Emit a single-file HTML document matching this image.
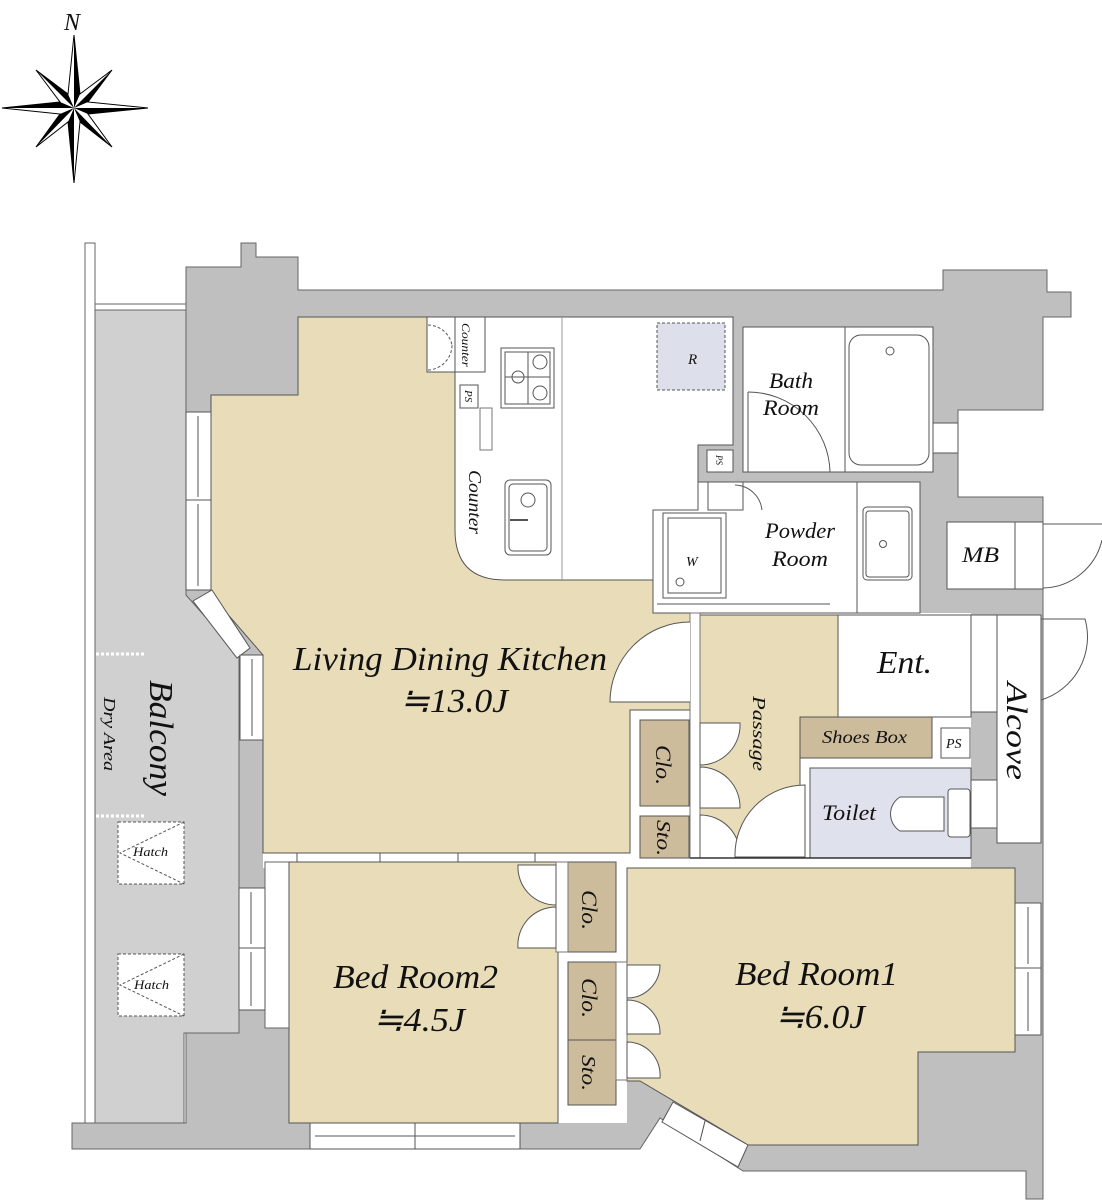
<!DOCTYPE html>
<html><head><meta charset="utf-8"><style>
html,body{margin:0;padding:0;background:#fff;}
svg{display:block;}
text{font-family:"Liberation Serif",serif;font-style:italic;fill:#111;}
</style></head><body>
<svg width="1102" height="1200" viewBox="0 0 1102 1200" xmlns="http://www.w3.org/2000/svg">
<!-- compass -->
<g>
<polygon points="74,35 80,94 112,70 88,102 148,108 88,114 112,147 80,122 74,183 68,122 36,147 60,114 2,108 60,102 36,70 68,94" fill="#fff" stroke="#000" stroke-width="1"/>
<polygon points="74,35 80,94 74,108" fill="#000"/>
<polygon points="148,108 88,114 74,108" fill="#000"/>
<polygon points="74,183 68,122 74,108" fill="#000"/>
<polygon points="2,108 60,102 74,108" fill="#000"/>
<polygon points="112,70 88,102 74,108" fill="#000"/>
<polygon points="112,147 80,122 74,108" fill="#000"/>
<polygon points="36,147 60,114 74,108" fill="#000"/>
<polygon points="36,70 68,94 74,108" fill="#000"/>
<text x="64" y="30" font-size="24">N</text>
</g>

<!-- outer walls -->
<polygon points="186,267 241,267 241,243 256,243 256,257 298,257 298,290 943,290 943,270 1047,270 1047,292 1071,292 1071,317 1043,317 1043,410 958,410 958,497 1043,497 1043,1199 1026,1199 1026,1171 743,1171 660,1118 640,1149 72,1149 72,1123 186,1123" fill="#bfbfbf" stroke="#666" stroke-width="1"/>
<!-- balcony -->
<rect x="85" y="243" width="10" height="880" fill="#fff" stroke="#666" stroke-width="1"/>
<polygon points="95,310 186,310 186,595 239,655 239,1033 184,1033 184,1123 95,1123" fill="#d0d0d0" stroke="#666" stroke-width="1"/>
<rect x="95" y="304" width="91" height="6" fill="#fff" stroke="#666" stroke-width="1"/>
<line x1="96" y1="654" x2="146" y2="654" stroke="#fff" stroke-width="3" stroke-dasharray="3,2"/>
<line x1="96" y1="816" x2="146" y2="816" stroke="#fff" stroke-width="3" stroke-dasharray="3,2"/>
<g fill="#fff" stroke="#555" stroke-width="1" stroke-dasharray="3,2">
<rect x="118" y="822" width="66" height="62"/>
<rect x="118" y="954" width="66" height="62"/>
<polyline points="184,822 120,853 184,884" fill="none"/>
<polyline points="184,954 120,985 184,1016" fill="none"/>
</g>
<text x="133" y="856" font-size="13" textLength="35" lengthAdjust="spacingAndGlyphs">Hatch</text>
<text x="134" y="989" font-size="13" textLength="35" lengthAdjust="spacingAndGlyphs">Hatch</text>

<!-- interior white base -->
<rect x="263" y="613" width="708" height="255" fill="#fff"/>
<rect x="556" y="862" width="71" height="261" fill="#fff"/>
<rect x="265" y="862" width="30" height="166" fill="#fff" stroke="#666" stroke-width="1"/>

<!-- LDK -->
<polygon points="211,395 298,395 298,317 653,317 653,613 690,613 690,710 630,710 630,853 263,853 263,655 211,595" fill="#e8dcb9" stroke="#555" stroke-width="1"/>
<!-- kitchen -->
<path d="M427,317 L733,317 L733,445 L698,445 L698,510 L653,510 L653,580 L505,580 Q455,580 455,530 L455,372 L427,372 Z" fill="#fff" stroke="#555" stroke-width="1"/>
<line x1="562" y1="317" x2="562" y2="580" stroke="#999" stroke-width="1"/>
<rect x="455" y="317" width="30" height="55" fill="#fff" stroke="#555" stroke-width="1"/>
<path d="M428,325 A25,25 0 0,1 452,345 M428,370 A25,25 0 0,0 452,345" fill="none" stroke="#555" stroke-width="1" stroke-dasharray="3,2"/>
<rect x="460" y="385" width="18" height="23" fill="#fff" stroke="#555"/>
<rect x="480" y="408" width="12" height="42" fill="#fff" stroke="#777"/>
<rect x="501" y="348" width="53" height="60" fill="#fff" stroke="#555"/>
<rect x="505" y="352" width="45" height="52" fill="none" stroke="#555"/>
<circle cx="540" cy="362" r="7" fill="none" stroke="#555"/><circle cx="540" cy="393" r="7" fill="none" stroke="#555"/><circle cx="518" cy="377" r="6" fill="none" stroke="#555"/>
<line x1="505" y1="377" x2="550" y2="377" stroke="#555"/><line x1="528" y1="352" x2="528" y2="404" stroke="#555"/>
<rect x="505" y="480" width="46" height="75" rx="5" fill="#fff" stroke="#555"/>
<rect x="509" y="484" width="38" height="67" rx="4" fill="none" stroke="#555"/>
<circle cx="528" cy="500" r="7" fill="none" stroke="#555"/>
<line x1="510" y1="520" x2="528" y2="520" stroke="#555" stroke-width="2"/>
<rect x="657" y="323" width="68" height="67" fill="#dde0ea" stroke="#555" stroke-dasharray="3,2"/>
<text x="688" y="364" font-size="15">R</text>
<text transform="translate(462,323) rotate(90)" font-size="12" textLength="44" lengthAdjust="spacingAndGlyphs">Counter</text>
<text transform="translate(465,390) rotate(90)" font-size="11">PS</text>
<text transform="translate(469,470) rotate(90)" font-size="18" textLength="64" lengthAdjust="spacingAndGlyphs">Counter</text>

<!-- bath -->
<rect x="743" y="327" width="190" height="145" fill="#fff" stroke="#555"/>
<line x1="845" y1="327" x2="845" y2="472" stroke="#555"/>
<rect x="849" y="335" width="80" height="130" rx="12" fill="#fff" stroke="#555"/>
<circle cx="890" cy="351" r="4" fill="none" stroke="#555"/>
<rect x="707" y="450" width="26" height="22" fill="#fff" stroke="#555"/>
<text transform="translate(716,455) rotate(90)" font-size="9">PS</text>
<path d="M748,392 A82,82 0 0,1 830,472" fill="none" stroke="#555"/>
<line x1="748" y1="392" x2="748" y2="472" stroke="#555"/>
<text x="769" y="388" font-size="22" textLength="44" lengthAdjust="spacingAndGlyphs">Bath</text>
<text x="763" y="415" font-size="22" textLength="56" lengthAdjust="spacingAndGlyphs">Room</text>
<rect x="933" y="423" width="25" height="30" fill="#fff" stroke="#555"/>

<!-- powder -->
<polygon points="653,510 698,510 698,482 920,482 920,613 653,613" fill="#fff" stroke="#555"/>
<rect x="708" y="482" width="35" height="28" fill="#fff" stroke="#555"/>
<path d="M735,485 A28,28 0 0,1 762,510" fill="none" stroke="#555"/>
<line x1="857" y1="482" x2="857" y2="613" stroke="#555"/>
<rect x="663" y="513" width="63" height="85" fill="#fff" stroke="#555"/>
<rect x="668" y="518" width="53" height="75" fill="none" stroke="#555"/>
<circle cx="680" cy="582" r="4" fill="none" stroke="#555"/>
<text x="686" y="566" font-size="14">W</text>
<rect x="863" y="507" width="49" height="73" rx="4" fill="#fff" stroke="#555"/>
<rect x="866" y="511" width="43" height="66" rx="3" fill="none" stroke="#555"/>
<circle cx="883" cy="544" r="3.5" fill="none" stroke="#555"/>
<line x1="657" y1="604" x2="830" y2="604" stroke="#555"/>
<text x="765" y="538" font-size="22" textLength="70" lengthAdjust="spacingAndGlyphs">Powder</text>
<text x="772" y="566" font-size="22" textLength="56" lengthAdjust="spacingAndGlyphs">Room</text>

<!-- MB -->
<rect x="947" y="522" width="96" height="67" fill="#fff" stroke="#555"/>
<line x1="1015" y1="522" x2="1015" y2="589" stroke="#555"/>
<path d="M1043,524 L1102,524 M1043,588 A62,62 0 0,0 1102,540" fill="none" stroke="#555"/>
<text x="962" y="562" font-size="22" textLength="37" lengthAdjust="spacingAndGlyphs">MB</text>

<!-- passage / ent -->
<polygon points="700,615 838,615 838,717 800,717 800,858 700,858" fill="#e8dcb9" stroke="#555"/>
<rect x="838" y="615" width="133" height="102" fill="#fff" stroke="#555"/>
<rect x="800" y="717" width="132" height="41" fill="#cdbc9b" stroke="#555"/>
<rect x="941" y="728" width="29" height="30" fill="#fff" stroke="#555"/>
<rect x="810" y="768" width="161" height="90" fill="#dfe2ec" stroke="#555"/>
<path d="M944,797 L900,797 A20,20 0 0,0 900,831 L944,831 Z" fill="#fff" stroke="#555"/>
<rect x="948" y="789" width="22" height="48" rx="3" fill="#fff" stroke="#555"/>
<rect x="690" y="613" width="10" height="245" fill="#fff" stroke="#777"/>
<rect x="640" y="720" width="49" height="86" fill="#cdbc9b" stroke="#555"/>
<rect x="640" y="816" width="49" height="42" fill="#cdbc9b" stroke="#555"/>
<path d="M690,622 A80,80 0 0,0 610,702 L690,702" fill="#fff" stroke="#555"/>
<g fill="#fff" stroke="#555">
<path d="M700,723 L740,723 A40,40 0 0,1 700,765 Z"/>
<path d="M700,767 A40,40 0 0,1 740,808 L700,808 Z"/>
<path d="M700,815 A40,40 0 0,1 740,858 L700,858 Z"/>
<path d="M805,785 A70,70 0 0,0 735,857 L805,857 Z"/>
</g>
<line x1="690" y1="858" x2="971" y2="858" stroke="#333" stroke-width="1.5"/>
<rect x="971" y="615" width="26" height="97" fill="#fff" stroke="#555"/>
<rect x="971" y="780" width="26" height="48" fill="#fff" stroke="#555"/>
<rect x="997" y="615" width="44" height="228" fill="#fff" stroke="#555"/>
<path d="M1041,619 L1085,619 A66,66 0 0,1 1041,700" fill="none" stroke="#555"/>
<text x="877" y="673" font-size="32" textLength="55" lengthAdjust="spacingAndGlyphs">Ent.</text>
<text x="822" y="743" font-size="18" textLength="85" lengthAdjust="spacingAndGlyphs">Shoes Box</text>
<text x="946" y="748" font-size="14">PS</text>
<text x="822" y="820" font-size="22" textLength="54" lengthAdjust="spacingAndGlyphs">Toilet</text>
<text transform="translate(753,696) rotate(90)" font-size="18" textLength="75" lengthAdjust="spacingAndGlyphs">Passage</text>
<text transform="translate(1007,682) rotate(90)" font-size="30" textLength="98" lengthAdjust="spacingAndGlyphs">Alcove</text>
<text transform="translate(656,745) rotate(90)" font-size="22" textLength="40" lengthAdjust="spacingAndGlyphs">Clo.</text>
<text transform="translate(657,820) rotate(90)" font-size="20" textLength="36" lengthAdjust="spacingAndGlyphs">Sto.</text>

<!-- LDK windows -->
<g fill="#fff" stroke="#555">
<rect x="186" y="412" width="25" height="88"/><rect x="186" y="500" width="25" height="90"/>
<line x1="198" y1="416" x2="198" y2="497"/><line x1="198" y1="504" x2="198" y2="586"/>
<polygon points="193,601 212,590 250,648 237,658"/>
<rect x="240" y="655" width="23" height="85"/>
<line x1="252" y1="659" x2="252" y2="736"/>
<rect x="297" y="853" width="238" height="9"/>
<line x1="380" y1="853" x2="380" y2="862"/><line x1="458" y1="853" x2="458" y2="862"/>
</g>

<!-- bed2 -->
<rect x="289" y="862" width="269" height="261" fill="#e8dcb9" stroke="#555"/>
<rect x="568" y="862" width="48" height="90" fill="#cdbc9b" stroke="#555"/>
<rect x="556" y="862" width="12" height="90" fill="#fff" stroke="#777"/>
<g fill="#fff" stroke="#555">
<path d="M556,865 L518,865 A38,38 0 0,0 556,905 Z"/>
<path d="M556,907 A38,38 0 0,0 518,948 L556,948 Z"/>
<rect x="239" y="888" width="26" height="60"/><rect x="239" y="948" width="26" height="62"/>
<line x1="251" y1="892" x2="251" y2="944"/><line x1="251" y1="952" x2="251" y2="1006"/>
<rect x="310" y="1123" width="210" height="26"/>
<line x1="415" y1="1123" x2="415" y2="1149"/><line x1="315" y1="1136" x2="515" y2="1136"/>
</g>
<text x="333" y="988" font-size="34" textLength="165" lengthAdjust="spacingAndGlyphs">Bed Room2</text>
<text x="373" y="1031" font-size="34" textLength="92" lengthAdjust="spacingAndGlyphs">≒4.5J</text>
<text transform="translate(582,890) rotate(90)" font-size="22" textLength="40" lengthAdjust="spacingAndGlyphs">Clo.</text>

<!-- bed1 -->
<polygon points="627,868 1015,868 1015,1052 918,1052 918,1145 748,1145 640,1081 627,1081" fill="#e8dcb9" stroke="#555"/>
<rect x="568" y="962" width="48" height="78" fill="#cdbc9b" stroke="#555"/>
<rect x="568" y="1040" width="48" height="65" fill="#cdbc9b" stroke="#555"/>
<rect x="616" y="962" width="11" height="118" fill="#fff" stroke="#777"/>
<g fill="#fff" stroke="#555">
<path d="M627,965 L660,965 A33,33 0 0,1 627,998 Z"/>
<path d="M627,1000 A33,33 0 0,1 660,1034 L627,1034 Z"/>
<path d="M627,1042 A33,33 0 0,1 660,1078 L627,1078 Z"/>
<polygon points="673,1102 748,1145 738,1167 662,1122"/>
<line x1="705" y1="1121" x2="700" y2="1141"/>
<rect x="1015" y="903" width="26" height="65"/><rect x="1015" y="968" width="26" height="67"/>
<line x1="1028" y1="907" x2="1028" y2="964"/><line x1="1028" y1="972" x2="1028" y2="1031"/>
</g>
<text x="735" y="985" font-size="34" textLength="163" lengthAdjust="spacingAndGlyphs">Bed Room1</text>
<text x="775" y="1028" font-size="34" textLength="90" lengthAdjust="spacingAndGlyphs">≒6.0J</text>
<text transform="translate(582,978) rotate(90)" font-size="22" textLength="40" lengthAdjust="spacingAndGlyphs">Clo.</text>
<text transform="translate(582,1055) rotate(90)" font-size="20" textLength="36" lengthAdjust="spacingAndGlyphs">Sto.</text>

<!-- LDK labels -->
<text x="293" y="670" font-size="34" textLength="314" lengthAdjust="spacingAndGlyphs">Living Dining Kitchen</text>
<text x="400" y="712" font-size="34" textLength="108" lengthAdjust="spacingAndGlyphs">≒13.0J</text>

<!-- balcony labels -->
<text transform="translate(150,680) rotate(90)" font-size="34" textLength="116" lengthAdjust="spacingAndGlyphs">Balcony</text>
<text transform="translate(104,697) rotate(90)" font-size="17" textLength="74" lengthAdjust="spacingAndGlyphs">Dry Area</text>
</svg>
</body></html>
